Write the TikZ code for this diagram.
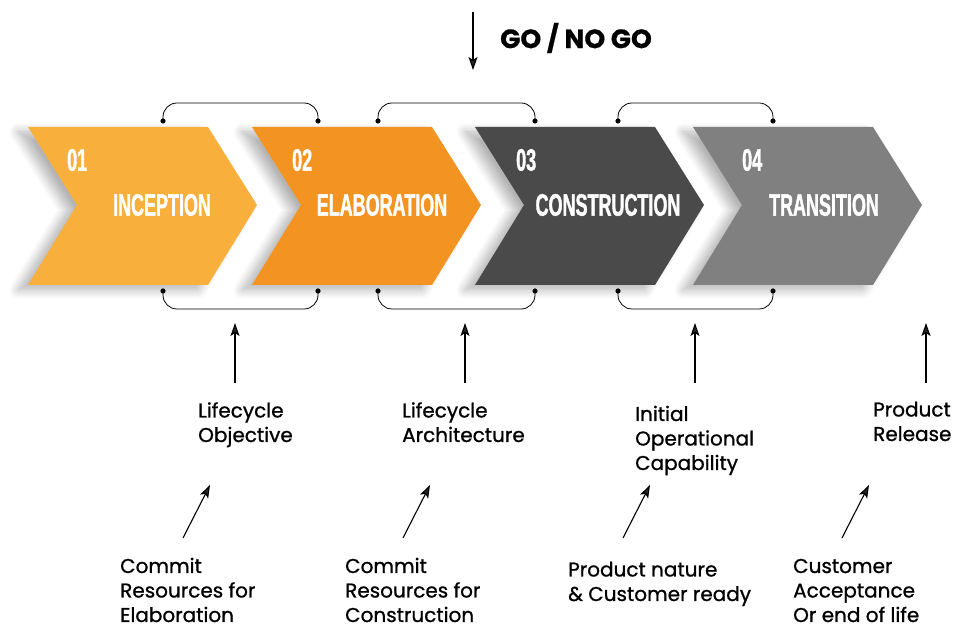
\documentclass[tikz,border=0pt]{standalone}
\usepackage{fontspec}
\setmainfont{Poppins}[FakeBold=0.9]
\newfontfamily\headfont{Liberation Sans}[FakeStretch=0.58,FakeBold=1.2]
\newfontfamily\gofont{Poppins}[FakeBold=0.5]
\usetikzlibrary{arrows.meta,shadows.blur}
\definecolor{phaseA}{HTML}{F9AF3C}
\definecolor{phaseB}{HTML}{F39322}
\definecolor{phaseC}{HTML}{4A4A4A}
\definecolor{phaseD}{HTML}{808080}
\begin{document}
\begin{tikzpicture}[x=1pt,y=1pt]
      \tikzstyle{chev} = [blur shadow={shadow xshift=-10pt, shadow yshift=-5pt, shadow opacity=30, shadow blur steps=10, shadow blur radius=9pt}]
      \tikzstyle{phnum} = [text=white, anchor=west, inner sep=0pt, font=\headfont\bfseries\fontsize{31}{31}\selectfont]
      \tikzstyle{phname} = [text=white, anchor=center, inner sep=0pt, font=\headfont\bfseries\fontsize{31}{31}\selectfont]
      \tikzstyle{mlabel} = [anchor=base west, inner sep=0pt, align=left, font=\fontsize{20}{24.5}\selectfont]
      \tikzstyle{link} = [thick, rounded corners=14pt]
      \tikzstyle{uparr} = [line width=1.1pt, -{Stealth[length=13pt,width=9pt,inset=3pt]}]
      \useasboundingbox (0,0) rectangle (954,629);

      % chevrons
      \foreach \L/\col in {28/phaseA, 252/phaseB, 475/phaseC, 693/phaseD}{
        \fill[chev, \col] (\L,502) -- (\L+180,502) -- (\L+229,424) -- (\L+180,344) -- (\L,344) -- (\L+49,424) -- cycle;
      }

      \node[phnum] (n1) at (67,469) {01};
      \node[phnum] (n2) at (292,469) {02};
      \node[phnum] (n3) at (516,469) {03};
      \node[phnum] (n4) at (742,469) {04};
      \node[phname] (p1) at (162,424) {INCEPTION};
      \node[phname] (p2) at (382,424) {ELABORATION};
      \node[phname] (p3) at (608,424) {CONSTRUCTION};
      \node[phname] (p4) at (824,424) {TRANSITION};

      % brackets
      \coordinate (ta1) at (163,508); \coordinate (tb1) at (318,508);
      \coordinate (ta2) at (378,508); \coordinate (tb2) at (535,508);
      \coordinate (ta3) at (618,508); \coordinate (tb3) at (773,508);
      \coordinate (ba1) at (163,338); \coordinate (bb1) at (318,338);
      \coordinate (ba2) at (378,338); \coordinate (bb2) at (535,338);
      \coordinate (ba3) at (618,338); \coordinate (bb3) at (773,338);
      \foreach \i in {1,2,3}{
        \draw[link] (ta\i) -- ++(0,18) -| (tb\i);
        \draw[link] (ba\i) -- ++(0,-18) -| (bb\i);
        \fill (ta\i) circle (2.6pt) (tb\i) circle (2.6pt) (ba\i) circle (2.6pt) (bb\i) circle (2.6pt);
      }

      % go / no go
      \coordinate (g1) at (473,617);
      \coordinate (g2) at (473,559);
      \draw[uparr] (g1) -- (g2);
      \node[anchor=west, inner sep=0pt, font=\gofont\bfseries\fontsize{26.5}{26.5}\selectfont] (go) at (500,591) {GO / NO GO};

      % milestones
      \foreach \x [count=\i] in {235,465,695,926}{
        \coordinate (m\i a) at (\x,246);
        \coordinate (m\i b) at (\x,306);
        \draw[uparr] (m\i a) -- (m\i b);
      }
      \node[mlabel] (l1) at (198,187) {Lifecycle\\Objective};
      \node[mlabel] (l2) at (402,187) {Lifecycle\\Architecture};
      \node[mlabel] (l3) at (635,159) {Initial\\Operational\\Capability};
      \node[mlabel] (l4) at (873,188) {Product\\Release};

      % entry criteria
      \foreach \x [count=\i] in {183,403,623,842}{
        \coordinate (c\i a) at (\x,91);
        \coordinate (c\i b) at (\x+27,144);
        \draw[uparr] (c\i a) -- (c\i b);
      }
      \node[mlabel] (e1) at (120,7) {Commit\\Resources for\\Elaboration};
      \node[mlabel] (e2) at (345,7) {Commit\\Resources for\\Construction};
      \node[mlabel] (e3) at (568,28) {Product nature\\\& Customer ready};
      \node[mlabel] (e4) at (793,7) {Customer\\Acceptance\\Or end of life};
\end{tikzpicture}
\end{document}
